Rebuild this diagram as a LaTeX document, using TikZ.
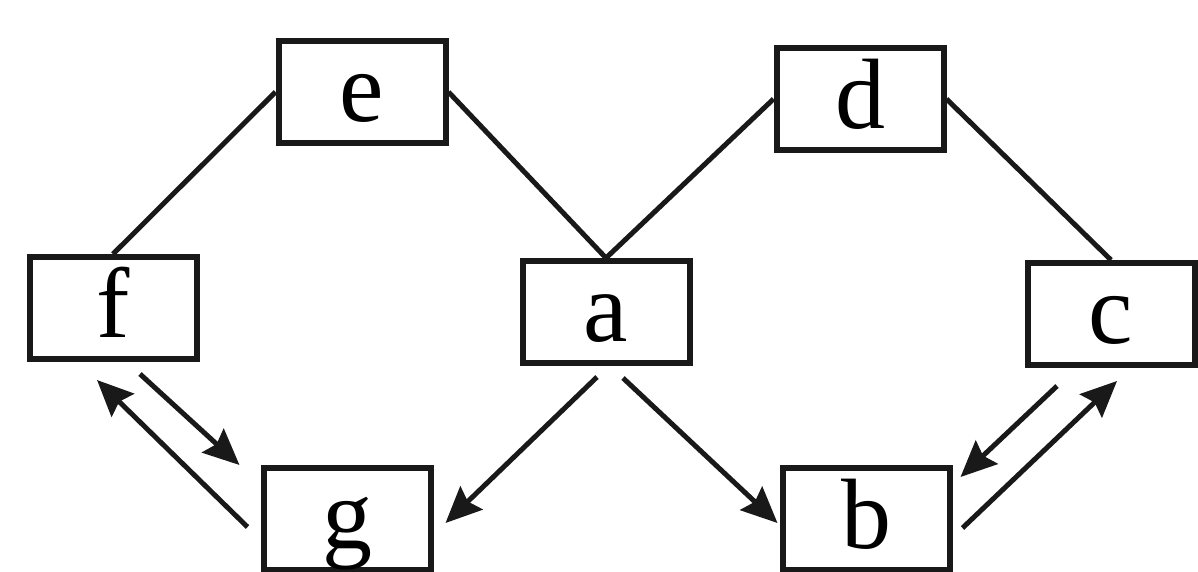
\documentclass[tikz,border=0pt]{standalone}
\usepackage{fontspec}
\setmainfont{Liberation Serif}
\usetikzlibrary{arrows.meta}
\begin{document}
\begin{tikzpicture}[x=1pt,y=-1pt,
  box/.style={draw=black!90,line width=6pt,rectangle,minimum width=167pt,minimum height=102pt,
    inner sep=0pt,text height=62pt,text depth=4pt,font=\fontsize{100}{110}\selectfont},
  conn/.style={line width=5pt,black!90},
  arr/.style={conn,-{Stealth[length=36pt,width=32pt,inset=5pt]}}]
\useasboundingbox (0,0) rectangle (1198,571);
\node[box] (e) at (362,92) {e};
\node[box] (d) at (860,99) {d};
\node[box] (f) at (113,308) {f};
\node[box] (a) at (606,312) {a};
\node[box] (c) at (1111,314) {c};
\node[box] (g) at (347,519) {g};
\node[box] (b) at (866,519) {b};
\draw[conn] (f.north) -- (e.west);
\draw[conn] (e.east) -- (a.north);
\draw[conn] (a.north) -- (d.west);
\draw[conn] (d.east) -- (c.north);
\draw[arr] ([shift={(27,12)}]f.south) -- ([shift={(-21,0)}]g.north west);
\draw[arr] ([shift={(-13,8)}]g.west) -- ([shift={(-16,18)}]f.south);
\draw[arr] ([shift={(-9,11)}]a.south) -- ([shift={(12,4)}]g.east);
\draw[arr] ([shift={(17,12)}]a.south) -- ([shift={(-2,4)}]b.west);
\draw[arr] ([shift={(-54,18)}]c.south) -- ([shift={(8,12)}]b.north east);
\draw[arr] ([shift={(10,9)}]b.east) -- ([shift={(6,13)}]c.south);
\end{tikzpicture}
\end{document}
